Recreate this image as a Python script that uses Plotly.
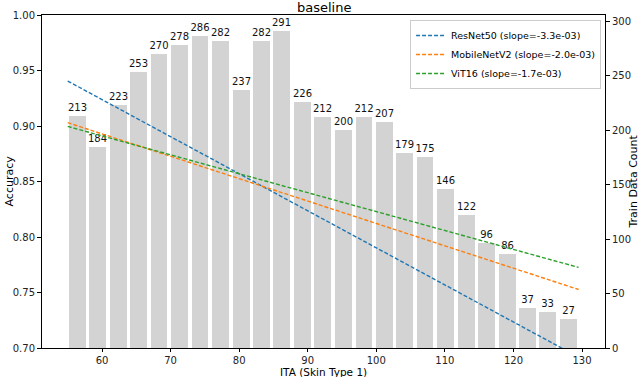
import plotly.graph_objects as go

# ---- data ----
ita_centers = [56.4, 59.4, 62.4, 65.3, 68.3, 71.3, 74.3, 77.3, 80.3, 83.3, 86.2, 89.2,
               92.2, 95.2, 98.2, 101.2, 104.1, 107.1, 110.1, 113.1, 116.1, 119.1,
               122.0, 125.0, 128.0]
train_counts = [213, 184, 223, 253, 270, 278, 286, 282, 237, 282, 291, 226, 212,
                200, 212, 207, 179, 175, 146, 122, 96, 86, 37, 33, 27]

fit_x = [55.0, 129.5]
resnet_fit = [0.9405, 0.6917]
mobilenet_fit = [0.9030, 0.7527]
vit_fit = [0.8996, 0.7726]

series_names = ["ResNet50 (slope=-3.3e-03)",
                "MobileNetV2 (slope=-2.0e-03)",
                "ViT16 (slope=-1.7e-03)"]
series_colors = ["#1f77b4", "#ff7f0e", "#2ca02c"]

FONT = "DejaVu Sans"

fig = go.Figure()

fig.add_trace(go.Bar(
    x=ita_centers, y=train_counts, width=2.45,
    marker=dict(color="#d3d3d3", line=dict(width=0)),
    text=[str(v) for v in train_counts], textposition="outside",
    textfont=dict(family=FONT, size=10, color="#111"),
    cliponaxis=False, showlegend=False, yaxis="y", hoverinfo="skip",
))

for name, ys, c in zip(series_names, [resnet_fit, mobilenet_fit, vit_fit], series_colors):
    fig.add_trace(go.Scatter(
        x=fit_x, y=ys, mode="lines", name=name, yaxis="y2",
        line=dict(color=c, width=1.4, dash="4px,2px"),
    ))

axis_common = dict(ticks="outside", tickcolor="black", showgrid=False,
                   zeroline=False, showline=True, linecolor="black", linewidth=1,
                   automargin=False, tickfont=dict(family=FONT, size=10, color="#222"))

fig.update_layout(
    width=640, height=377,
    margin=dict(l=42, r=35, t=15, b=29, autoexpand=False),
    paper_bgcolor="white", plot_bgcolor="white",
    font=dict(family=FONT, size=10, color="black"),
    uniformtext=dict(minsize=10, mode="show"),
    bargap=0,
    xaxis=dict(range=[51.25, 133.35], tickvals=[60, 70, 80, 90, 100, 110, 120, 130],
               mirror=True, ticklen=3, **axis_common),
    yaxis=dict(range=[0, 305.55], side="right", tickvals=[0, 50, 100, 150, 200, 250, 300],
               ticklen=4, **axis_common),
    yaxis2=dict(range=[0.70, 1.00], side="left", overlaying="y",
                tickvals=[0.70, 0.75, 0.80, 0.85, 0.90, 0.95, 1.00], tickformat=".2f",
                ticklen=4, **axis_common),
    legend=dict(x=0.993, y=0.985, xanchor="right", yanchor="top",
                bgcolor="rgba(255,255,255,0.8)", bordercolor="#cccccc", borderwidth=1,
                font=dict(family=FONT, size=9.5), tracegroupgap=0, itemwidth=30),
    annotations=[
        dict(text="baseline", xref="paper", yref="paper", x=0.5, y=1, yshift=8,
             xanchor="center", yanchor="middle", showarrow=False,
             font=dict(family=FONT, size=13, color="black")),
        dict(text="ITA (Skin Type 1)", xref="paper", yref="paper", x=0.5, y=0, yshift=-23.5,
             xanchor="center", yanchor="middle", showarrow=False, borderpad=0,
             font=dict(family=FONT, size=10.5, color="black")),
        dict(text="Accuracy", xref="paper", yref="paper", x=0, xshift=-33, y=0.5,
             xanchor="center", yanchor="middle", textangle=-90, showarrow=False,
             font=dict(family=FONT, size=11, color="black")),
        dict(text="Train Data Count", xref="paper", yref="paper", x=1, xshift=28, y=0.5,
             xanchor="center", yanchor="middle", textangle=-90, showarrow=False,
             font=dict(family=FONT, size=11, color="black")),
    ],
)

fig.write_html("out.html", config={"displayModeBar": False},
               post_script="document.body.style.margin='0';document.body.style.padding='0';")
